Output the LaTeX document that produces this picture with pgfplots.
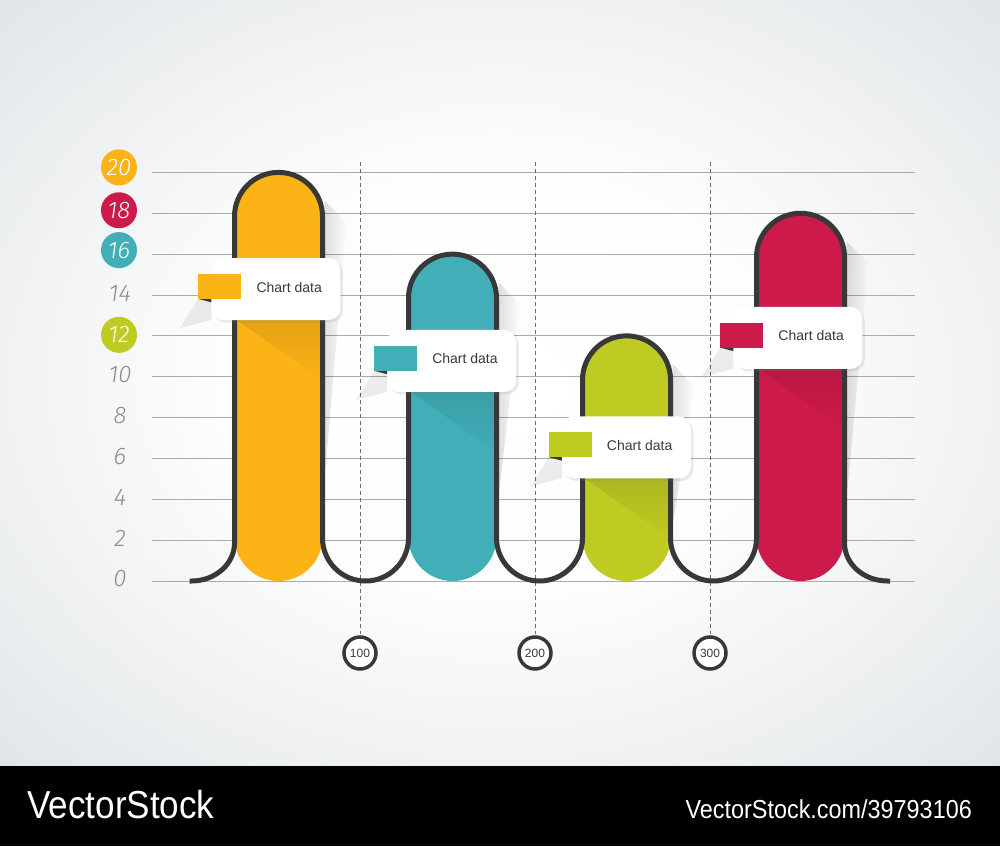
\documentclass[border=0pt]{standalone}
\usepackage{pgfplots}
\pgfplotsset{compat=1.18}
\usepackage{fontspec}
\setmainfont{Liberation Sans}
\newfontfamily\tickfam{Fira Sans}[UprightFont={* Light}, ItalicFont={* Light Italic}]
\newcommand{\tickfont}{\tickfam\itshape}
\newfontfamily\wmfont{Liberation Sans}[FakeStretch=0.9]
\usetikzlibrary{shadows,fadings}

\definecolor{corange}{HTML}{FBB316}
\definecolor{cteal}{HTML}{41AEB8}
\definecolor{cgreen}{HTML}{BFCA22}
\definecolor{cred}{HTML}{CC1A4A}
\definecolor{outl}{HTML}{383838}
\definecolor{gridc}{HTML}{ABABAB}
\definecolor{tickc}{HTML}{8C8C8C}
\definecolor{bgout}{HTML}{D0D6DA}

\pgfdeclareradialshading{bgshade}{\pgfpoint{0bp}{0bp}}{%
  color(0bp)=(white); color(14bp)=(white!95!bgout); color(50bp)=(bgout)}

% shadow thrown on a bar below its callout: bar x, box centre y
\newcommand{\innershadow}[2]{%
  \fill[black, opacity=0.09, path fading=south]
    ([xshift=-42pt,yshift=-31pt]axis cs:#1,#2) -- ([xshift=42pt,yshift=-31pt]axis cs:#1,#2)
    -- ([xshift=42pt,yshift=-90pt]axis cs:#1,#2) -- cycle;
}

% callout box: colour, box centre x, box centre y
\newcommand{\callout}[3]{%
  \fill[black, opacity=0.07]
    ([xshift=-77.5pt,yshift=-9.8pt]axis cs:#2,#3) -- ([xshift=-64.5pt,yshift=-13.3pt]axis cs:#2,#3)
    -- ([xshift=-64.5pt,yshift=-31pt]axis cs:#2,#3) -- ([xshift=-96pt,yshift=-39pt]axis cs:#2,#3) -- cycle;
  \node[fill=white, rounded corners=12pt, minimum width=129pt, minimum height=62pt,
    drop shadow={shadow xshift=2.5pt, shadow yshift=-2.5pt, opacity=0.16}] at (axis cs:#2,#3) {};
  \fill[outl] ([xshift=-77.5pt,yshift=-9.8pt]axis cs:#2,#3) -- ([xshift=-64.5pt,yshift=-9.8pt]axis cs:#2,#3)
    -- ([xshift=-64.5pt,yshift=-13.3pt]axis cs:#2,#3) -- cycle;
  \fill[#1] ([xshift=-77.5pt,yshift=-9.8pt]axis cs:#2,#3) rectangle ([xshift=-34.5pt,yshift=15.2pt]axis cs:#2,#3);
  \node[font=\fontsize{14}{14}\selectfont, text=outl] at ([xshift=13.3pt,yshift=2pt]axis cs:#2,#3) {Chart data};
}

% soft shadow to the right of a bar: x, value, end value
\newcommand{\barshadow}[3]{%
  \fill[black, opacity=0.12, path fading=east]
    ([xshift=46pt,yshift=-28pt]axis cs:#1,#2) -- ([xshift=68pt,yshift=-50pt]axis cs:#1,#2)
    -- ([xshift=47pt]axis cs:#1,#3) -- ([xshift=46pt]axis cs:#1,#3) -- cycle;
}

\begin{document}
\begin{tikzpicture}
% background (1 px = 1 pt, axis lower left = px (152,581))
\shade[shading=bgshade] (-152pt,-185pt) rectangle (848pt,581pt);
\fill[black] (-152pt,-265pt) rectangle (848pt,-185pt);
\node[anchor=base west, text=white, font=\wmfont\fontsize{39}{39}\selectfont, inner sep=0pt]
  at (-125pt,-237pt) {VectorStock};
\node[anchor=base east, text=white, font=\wmfont\fontsize{26}{26}\selectfont, inner sep=0pt]
  at (820pt,-237pt) {VectorStock.com/39793106};

\begin{axis}[
  scale only axis, width=763pt, height=408.6pt,
  xmin=-18.857, xmax=417.14, ymin=0, ymax=20,
  clip=false,
  axis line style={draw=none},
  tick style={draw=none},
  ytick={0,2,...,20},
  yticklabels={0,2,4,6,8,10,,14,,,},
  yticklabel style={anchor=center, xshift=-32pt, yshift=2pt, text=tickc,
    font=\tickfont\fontsize{24}{24}\selectfont},
  ymajorgrids,
  major grid style={gridc, line width=0.9pt},
  xtick={100,200,300},
  xticklabels={100,200,300},
  xticklabel style={circle, draw=outl, line width=3.5pt, fill=white, minimum size=32pt,
    inner sep=0pt, anchor=center, yshift=-72pt, text=outl, font=\fontsize{12}{12}\selectfont},
]

% dashed guides
\addplot[gray!85!black, line width=0.8pt, dash pattern=on 4pt off 3pt] coordinates {(100,20.51) (100,-2.6)};
\addplot[gray!85!black, line width=0.8pt, dash pattern=on 4pt off 3pt] coordinates {(200,20.51) (200,-2.6)};
\addplot[gray!85!black, line width=0.8pt, dash pattern=on 4pt off 3pt] coordinates {(300,20.51) (300,-2.6)};

\barshadow{53.43}{20}{5.5}
\barshadow{152.86}{16}{4.5}
\barshadow{252.29}{12}{3}
\barshadow{351.71}{18}{4.5}

% bars
\addplot[ybar, bar width=88pt, bar shift=0pt, fill=corange, draw=none, rounded corners=44pt] coordinates {(53.43,20)};
\addplot[ybar, bar width=88pt, bar shift=0pt, fill=cteal, draw=none, rounded corners=44pt] coordinates {(152.86,16)};
\addplot[ybar, bar width=88pt, bar shift=0pt, fill=cgreen, draw=none, rounded corners=44pt] coordinates {(252.29,12)};
\addplot[ybar, bar width=88pt, bar shift=0pt, fill=cred, draw=none, rounded corners=44pt] coordinates {(351.71,18)};

\innershadow{53.43}{14.29}
\innershadow{152.86}{10.77}
\innershadow{252.29}{6.54}
\innershadow{351.71}{11.90}

% outline
\draw[outl, line width=5pt]
  ([xshift=-89pt]axis cs:53.43,0) -- ([xshift=-87pt]axis cs:53.43,0)
  arc[start angle=270, end angle=360, x radius=43pt, y radius=38pt]
  -- ([xshift=-44pt,yshift=-44pt]axis cs:53.43,20)
  arc[start angle=180, end angle=0, radius=44pt]
  -- ([xshift=44pt,yshift=43pt]axis cs:53.43,0)
  arc[start angle=180, end angle=360, radius=43pt]
  -- ([xshift=-44pt,yshift=-44pt]axis cs:152.86,16)
  arc[start angle=180, end angle=0, radius=44pt]
  -- ([xshift=44pt,yshift=43pt]axis cs:152.86,0)
  arc[start angle=180, end angle=360, radius=43pt]
  -- ([xshift=-44pt,yshift=-44pt]axis cs:252.29,12)
  arc[start angle=180, end angle=0, radius=44pt]
  -- ([xshift=44pt,yshift=43pt]axis cs:252.29,0)
  arc[start angle=180, end angle=360, radius=43pt]
  -- ([xshift=-44pt,yshift=-44pt]axis cs:351.71,18)
  arc[start angle=180, end angle=0, radius=44pt]
  -- ([xshift=44pt,yshift=38pt]axis cs:351.71,0)
  arc[start angle=180, end angle=270, x radius=43pt, y radius=38pt]
  -- ([xshift=89.5pt]axis cs:351.71,0);

% callouts
\callout{corange}{51.94}{14.29}
\callout{cteal}{152.4}{10.77}
\callout{cgreen}{252.2}{6.54}
\callout{cred}{350.2}{11.90}

% circled tick values
\node[circle, fill=corange, minimum size=36pt, inner sep=0pt, text=white,
  font=\tickfont\fontsize{24}{24}\selectfont] at ([xshift=-33pt,yshift=5pt]axis cs:-18.857,20) {20};
\node[circle, fill=cred, minimum size=36pt, inner sep=0pt, text=white,
  font=\tickfont\fontsize{24}{24}\selectfont] at ([xshift=-33pt,yshift=3pt]axis cs:-18.857,18) {18};
\node[circle, fill=cteal, minimum size=36pt, inner sep=0pt, text=white,
  font=\tickfont\fontsize{24}{24}\selectfont] at ([xshift=-33pt,yshift=4pt]axis cs:-18.857,16) {16};
\node[circle, fill=cgreen, minimum size=36pt, inner sep=0pt, text=white,
  font=\tickfont\fontsize{24}{24}\selectfont] at ([xshift=-33pt,yshift=1pt]axis cs:-18.857,12) {12};
\end{axis}
\end{tikzpicture}
\end{document}
